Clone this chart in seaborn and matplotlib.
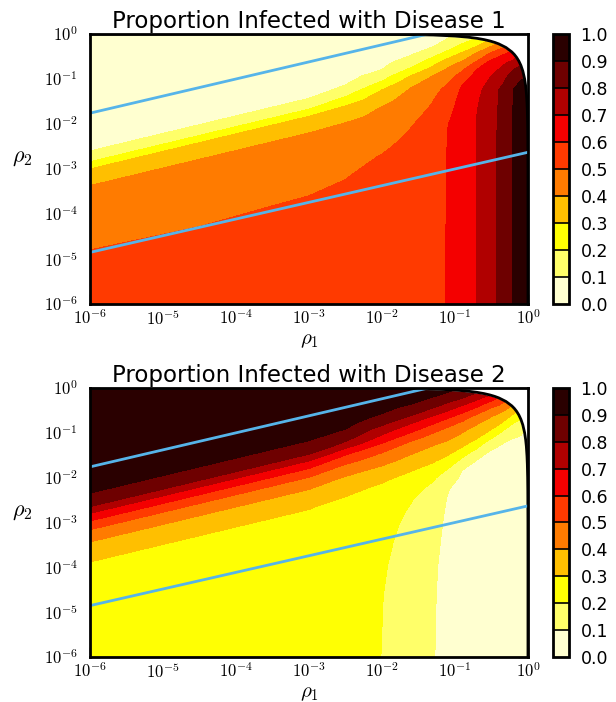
import numpy as np
import matplotlib
matplotlib.use("Agg")
import matplotlib.pyplot as plt
import seaborn as sns

# ---------------------------------------------------------------------------
# Data.
# Field values are sampled on a grid in log10 space:
#   columns = log10(rho1) nodes, rows = band offsets (log10(rho2) at rho1=1e-6,
#   the rows follow the slope of the diagonal bands on the left side).
# ---------------------------------------------------------------------------
log_rho1_nodes = [-6, -4.5, -3, -2.5, -2, -1.6, -1.3, -1.1, -0.9, -0.7,
                  -0.55, -0.4, -0.3, -0.2, -0.1, 0]
band_offsets = [0, -0.6, -1.2, -1.45, -1.65, -1.8, -2.0, -2.15, -2.3, -2.45,
                -2.6, -2.84, -3.0, -3.2, -3.37, -3.6, -3.85, -4.1, -4.4, -4.8,
                -5.3, -6.0, -6.7, -7.4]
band_slope = 0.39

# proportion infected with disease 1, one list per log10(rho1) column
d1_u_m6 = [0.0, 0.0, 0.01, 0.015, 0.02, 0.025, 0.035, 0.045, 0.06, 0.08, 0.1, 0.2,
           0.3, 0.355, 0.4, 0.425, 0.445, 0.46, 0.475, 0.5, 0.52, 0.54, 0.55, 0.555]
d1_u_m4_5 = [0.0, 0.0, 0.01, 0.015, 0.02, 0.025, 0.035, 0.045, 0.06, 0.08, 0.1, 0.2,
             0.3, 0.355, 0.4, 0.425, 0.445, 0.46, 0.475, 0.497, 0.52, 0.54, 0.55, 0.555]
d1_u_m3 = [0.0, 0.0, 0.01, 0.015, 0.02, 0.025, 0.035, 0.045, 0.06, 0.08, 0.1, 0.2,
           0.3, 0.355, 0.4, 0.425, 0.445, 0.46, 0.477, 0.502, 0.52, 0.54, 0.55, 0.555]
d1_u_m2_5 = [0.0, 0.005, 0.01, 0.015, 0.02, 0.025, 0.035, 0.045, 0.06, 0.088, 0.125, 0.2375,
             0.317, 0.371, 0.4065, 0.43, 0.45, 0.47, 0.49, 0.51, 0.525, 0.54, 0.55, 0.555]
d1_u_m2 = [0.01, 0.015, 0.02, 0.03, 0.04, 0.055, 0.075, 0.098, 0.15, 0.215, 0.297, 0.37,
           0.405, 0.425, 0.44, 0.46, 0.485, 0.505, 0.52, 0.535, 0.545, 0.55, 0.555, 0.555]
d1_u_m1_6 = [0.02, 0.03, 0.04, 0.05, 0.07, 0.088, 0.15, 0.217, 0.304, 0.37, 0.41, 0.44,
             0.46, 0.48, 0.495, 0.51, 0.525, 0.535, 0.545, 0.555, 0.56, 0.565, 0.57, 0.57]
d1_u_m1_3 = [0.04, 0.05, 0.06, 0.075, 0.1, 0.16, 0.262, 0.335, 0.402, 0.44, 0.47, 0.498,
             0.51, 0.525, 0.535, 0.545, 0.555, 0.56, 0.568, 0.572, 0.576, 0.578, 0.58, 0.58]
d1_u_m1_1 = [0.05, 0.06, 0.08, 0.095, 0.16, 0.23, 0.355, 0.41, 0.46, 0.495, 0.525, 0.555,
             0.57, 0.585, 0.598, 0.601, 0.602, 0.603, 0.603, 0.603, 0.603, 0.603, 0.603, 0.603]
d1_u_m0_9 = [0.07, 0.085, 0.10, 0.14, 0.23, 0.315, 0.415, 0.485, 0.535, 0.59, 0.615, 0.63,
             0.637, 0.642, 0.645, 0.647, 0.65, 0.65, 0.65, 0.65, 0.65, 0.65, 0.65, 0.65]
d1_u_m0_7 = [0.09, 0.11, 0.15, 0.2, 0.305, 0.41, 0.515, 0.598, 0.64, 0.665, 0.68, 0.69,
             0.695, 0.7005, 0.702, 0.703, 0.703, 0.703, 0.703, 0.703, 0.703, 0.703, 0.703, 0.703]
d1_u_m0_55 = [0.13, 0.16, 0.2, 0.26, 0.385, 0.49, 0.61, 0.655, 0.685, 0.705, 0.72, 0.735,
              0.742, 0.748, 0.751, 0.753, 0.755, 0.757, 0.757, 0.757, 0.757, 0.757, 0.757, 0.757]
d1_u_m0_4 = [0.2, 0.24, 0.28, 0.33, 0.45, 0.57, 0.655, 0.7, 0.735, 0.765, 0.799, 0.803,
             0.805, 0.807, 0.808, 0.81, 0.81, 0.81, 0.81, 0.81, 0.81, 0.81, 0.81, 0.81]
d1_u_m0_3 = [0.25, 0.3, 0.35, 0.4, 0.49, 0.6, 0.695, 0.75, 0.79, 0.815, 0.83, 0.845,
             0.85, 0.853, 0.855, 0.857, 0.859, 0.859, 0.859, 0.859, 0.859, 0.859, 0.859, 0.859]
d1_u_m0_2 = [0.35, 0.4, 0.45, 0.5, 0.55, 0.63, 0.725, 0.795, 0.84, 0.87, 0.8995, 0.902,
             0.903, 0.904, 0.905, 0.905, 0.905, 0.905, 0.905, 0.905, 0.905, 0.905, 0.905, 0.905]
d1_u_m0_1 = [0.45, 0.5, 0.55, 0.6, 0.65, 0.7, 0.77, 0.83, 0.875, 0.91, 0.925, 0.935,
             0.94, 0.943, 0.946, 0.948, 0.95, 0.95, 0.95, 0.95, 0.95, 0.95, 0.95, 0.95]
d1_u_0 = [0.85, 0.85, 0.85, 0.85, 0.85, 0.85, 0.85, 0.85, 0.9, 0.93, 0.95, 0.97,
          0.98, 0.985, 0.99, 0.995, 1.0, 1.0, 1.0, 1.0, 1.0, 1.0, 1.0, 1.0]

# proportion infected with disease 2
d2_u_m6 = [0.995, 0.99, 0.975, 0.97, 0.96, 0.955, 0.94, 0.93, 0.908, 0.88, 0.83, 0.67,
           0.58, 0.48, 0.415, 0.36, 0.302, 0.285, 0.275, 0.265, 0.26, 0.255, 0.252, 0.25]
d2_u_m4_5 = [0.995, 0.99, 0.975, 0.97, 0.96, 0.955, 0.94, 0.93, 0.908, 0.88, 0.83, 0.67,
             0.58, 0.48, 0.415, 0.36, 0.302, 0.285, 0.275, 0.265, 0.26, 0.255, 0.252, 0.25]
d2_u_m3 = [0.995, 0.99, 0.975, 0.97, 0.96, 0.955, 0.94, 0.93, 0.908, 0.88, 0.83, 0.67,
           0.58, 0.48, 0.415, 0.36, 0.302, 0.285, 0.275, 0.265, 0.26, 0.255, 0.252, 0.25]
d2_u_m2_5 = [1.0, 0.99, 0.975, 0.97, 0.96, 0.955, 0.945, 0.93, 0.895, 0.85, 0.78, 0.61,
             0.53, 0.44, 0.39, 0.33, 0.29, 0.275, 0.262, 0.25, 0.24, 0.235, 0.23, 0.23]
d2_u_m2 = [1.0, 0.995, 0.98, 0.97, 0.955, 0.93, 0.885, 0.825, 0.75, 0.68, 0.598, 0.485,
           0.43, 0.37, 0.32, 0.28, 0.26, 0.245, 0.232, 0.22, 0.21, 0.202, 0.2, 0.199]
d2_u_m1_6 = [1.0, 0.995, 0.98, 0.955, 0.925, 0.875, 0.79, 0.703, 0.63, 0.548, 0.475, 0.402,
             0.36, 0.305, 0.27, 0.235, 0.205, 0.19, 0.178, 0.168, 0.16, 0.155, 0.152, 0.15]
d2_u_m1_3 = [1.0, 0.99, 0.97, 0.94, 0.87, 0.805, 0.69, 0.61, 0.53, 0.468, 0.415, 0.345,
             0.307, 0.26, 0.215, 0.175, 0.15, 0.135, 0.122, 0.113, 0.107, 0.104, 0.103, 0.102]
d2_u_m1_1 = [1.0, 0.985, 0.96, 0.905, 0.82, 0.745, 0.625, 0.54, 0.475, 0.428, 0.38, 0.31,
             0.26, 0.19, 0.14, 0.105, 0.095, 0.09, 0.088, 0.087, 0.086, 0.085, 0.085, 0.085]
d2_u_m0_9 = [0.99, 0.97, 0.93, 0.87, 0.77, 0.67, 0.555, 0.48, 0.42, 0.373, 0.335, 0.23,
             0.17, 0.1, 0.085, 0.075, 0.07, 0.068, 0.066, 0.065, 0.065, 0.065, 0.065, 0.065]
d2_u_m0_7 = [0.97, 0.94, 0.88, 0.81, 0.69, 0.595, 0.47, 0.41, 0.36, 0.32, 0.25, 0.145,
             0.09, 0.07, 0.06, 0.055, 0.05, 0.048, 0.047, 0.046, 0.045, 0.045, 0.045, 0.045]
d2_u_m0_55 = [0.96, 0.92, 0.85, 0.76, 0.622, 0.52, 0.42, 0.36, 0.32, 0.245, 0.17, 0.085,
              0.06, 0.048, 0.043, 0.04, 0.038, 0.037, 0.036, 0.035, 0.035, 0.035, 0.035, 0.035]
d2_u_m0_4 = [0.94, 0.88, 0.78, 0.68, 0.56, 0.47, 0.365, 0.315, 0.24, 0.17, 0.115, 0.055,
             0.04, 0.033, 0.03, 0.028, 0.026, 0.025, 0.025, 0.025, 0.025, 0.025, 0.025, 0.025]
d2_u_m0_3 = [0.9, 0.8, 0.7, 0.6, 0.5, 0.42, 0.33, 0.26, 0.185, 0.135, 0.09, 0.045,
             0.032, 0.026, 0.022, 0.02, 0.019, 0.018, 0.018, 0.018, 0.018, 0.018, 0.018, 0.018]
d2_u_m0_2 = [0.85, 0.75, 0.65, 0.55, 0.45, 0.37, 0.27, 0.198, 0.15, 0.11, 0.07, 0.035,
             0.025, 0.018, 0.015, 0.014, 0.013, 0.012, 0.012, 0.012, 0.012, 0.012, 0.012, 0.012]
d2_u_m0_1 = [0.8, 0.7, 0.6, 0.5, 0.4, 0.3, 0.23, 0.17, 0.125, 0.095, 0.065, 0.035,
             0.022, 0.015, 0.01, 0.008, 0.007, 0.006, 0.006, 0.006, 0.006, 0.006, 0.006, 0.006]
d2_u_0 = [0.7, 0.6, 0.5, 0.4, 0.3, 0.25, 0.18, 0.12, 0.08, 0.05, 0.03, 0.015,
          0.01, 0.005, 0.0, 0.0, 0.0, 0.0, 0.0, 0.0, 0.0, 0.0, 0.0, 0.0]

# edge of the feasible region (rho1 + rho2 <= 1)
boundary_rho1 = [1e-6, 0.01, 0.05, 0.1, 0.15, 0.2, 0.25, 0.3, 0.35, 0.4, 0.5, 0.6, 0.65,
                 0.7, 0.75, 0.8, 0.85, 0.9, 0.93, 0.95, 0.97, 0.98, 0.99, 0.995,
                 0.999, 0.9999, 0.999999]
boundary_rho2 = [0.999999, 0.99, 0.95, 0.9, 0.85, 0.8, 0.75, 0.7, 0.65, 0.6, 0.5, 0.4, 0.35,
                 0.3, 0.25, 0.2, 0.15, 0.1, 0.07, 0.05, 0.03, 0.02, 0.01, 0.005,
                 0.001, 0.0001, 1e-6]

# the two blue reference lines
upper_line_rho1 = [1e-6, 0.043]
upper_line_rho2 = [0.0174, 1.0]
lower_line_rho1 = [1e-6, 1.0]
lower_line_rho2 = [1.4e-5, 2.35e-3]

decade_exponents = [-6, -5, -4, -3, -2, -1, 0]
contour_levels = [0.0, 0.1, 0.2, 0.3, 0.4, 0.5, 0.6, 0.7, 0.8, 0.9, 1.0]
titles = ["Proportion Infected with Disease 1", "Proportion Infected with Disease 2"]


def build_grid():
    u = np.array(log_rho1_nodes, dtype=float)
    s = np.array(band_offsets, dtype=float)
    shift = band_slope * (np.minimum(u, -2.5) + 6)
    X = np.tile(u, (len(s), 1))
    Y = s[:, None] + shift[None, :]
    return X, Y


def draw_panel(ax, cax, X, Y, Z, title):
    cs = ax.contourf(X, Y, Z, levels=contour_levels, cmap="hot_r")

    bu = np.log10(boundary_rho1)
    bv = np.log10(boundary_rho2)
    ax.fill_between(bu, bv, 1.0, color="white", zorder=2)
    ax.plot(bu, bv, color="black", lw=2, zorder=3)

    blue = sns.color_palette("colorblind")[9]
    ax.plot(np.log10(upper_line_rho1), np.log10(upper_line_rho2), color=blue, lw=2, zorder=4)
    ax.plot(np.log10(lower_line_rho1), np.log10(lower_line_rho2), color=blue, lw=2, zorder=4)

    ax.set_xlim(-6, 0)
    ax.set_ylim(-6, 0)
    ax.set_xticks(decade_exponents)
    ax.set_yticks(decade_exponents)
    labels = [f"$10^{{{k}}}$" for k in decade_exponents]
    ax.set_xticklabels(labels)
    ax.set_yticklabels(labels)
    ax.tick_params(direction="in", length=7, width=1, colors="black",
                   top=True, right=True, bottom=True, left=True, labelsize=12)
    ax.tick_params(axis="x", pad=4)
    ax.tick_params(axis="y", pad=9)
    for sp in ax.spines.values():
        sp.set_linewidth(2)
        sp.set_color("black")
        sp.set_zorder(5)

    ax.set_title(title, fontsize=16.5, pad=4)
    ax.set_xlabel(r"$\rho_1$", fontsize=15, labelpad=1)
    ax.set_ylabel(r"$\rho_2$", fontsize=16, rotation=0, va="center", ha="center")
    ax.yaxis.set_label_coords(-0.155, 0.54)

    cb = ax.figure.colorbar(cs, cax=cax, ticks=contour_levels, drawedges=True)
    cb.outline.set_linewidth(2)
    cb.outline.set_edgecolor("black")
    cb.dividers.set_color("black")
    cb.dividers.set_linewidth(1.2)
    cb.ax.set_yticklabels([f"{v:.1f}" for v in contour_levels])
    cax.tick_params(length=0, labelsize=12.5, pad=8, colors="black")


def main():
    sns.set_theme(style="white")
    plt.rcParams["font.family"] = ["DejaVu Sans"]
    plt.rcParams["mathtext.fontset"] = "cm"
    plt.rcParams["text.color"] = "black"
    plt.rcParams["axes.labelcolor"] = "black"

    X, Y = build_grid()
    z1 = np.column_stack([d1_u_m6, d1_u_m4_5, d1_u_m3, d1_u_m2_5, d1_u_m2, d1_u_m1_6,
                          d1_u_m1_3, d1_u_m1_1, d1_u_m0_9, d1_u_m0_7, d1_u_m0_55,
                          d1_u_m0_4, d1_u_m0_3, d1_u_m0_2, d1_u_m0_1, d1_u_0])
    z2 = np.column_stack([d2_u_m6, d2_u_m4_5, d2_u_m3, d2_u_m2_5, d2_u_m2, d2_u_m1_6,
                          d2_u_m1_3, d2_u_m1_1, d2_u_m0_9, d2_u_m0_7, d2_u_m0_55,
                          d2_u_m0_4, d2_u_m0_3, d2_u_m0_2, d2_u_m0_1, d2_u_0])

    fig = plt.figure(figsize=(6.16, 7.02), dpi=100)
    ax1 = fig.add_axes([0.1461, 0.5670, 0.7110, 0.3846])
    cax1 = fig.add_axes([0.8975, 0.5670, 0.0270, 0.3846])
    ax2 = fig.add_axes([0.1461, 0.0641, 0.7110, 0.3832])
    cax2 = fig.add_axes([0.8975, 0.0641, 0.0270, 0.3832])

    draw_panel(ax1, cax1, X, Y, z1, titles[0])
    draw_panel(ax2, cax2, X, Y, z2, titles[1])

    fig.savefig("out.png", dpi=100, facecolor="white")


if __name__ == "__main__":
    main()
